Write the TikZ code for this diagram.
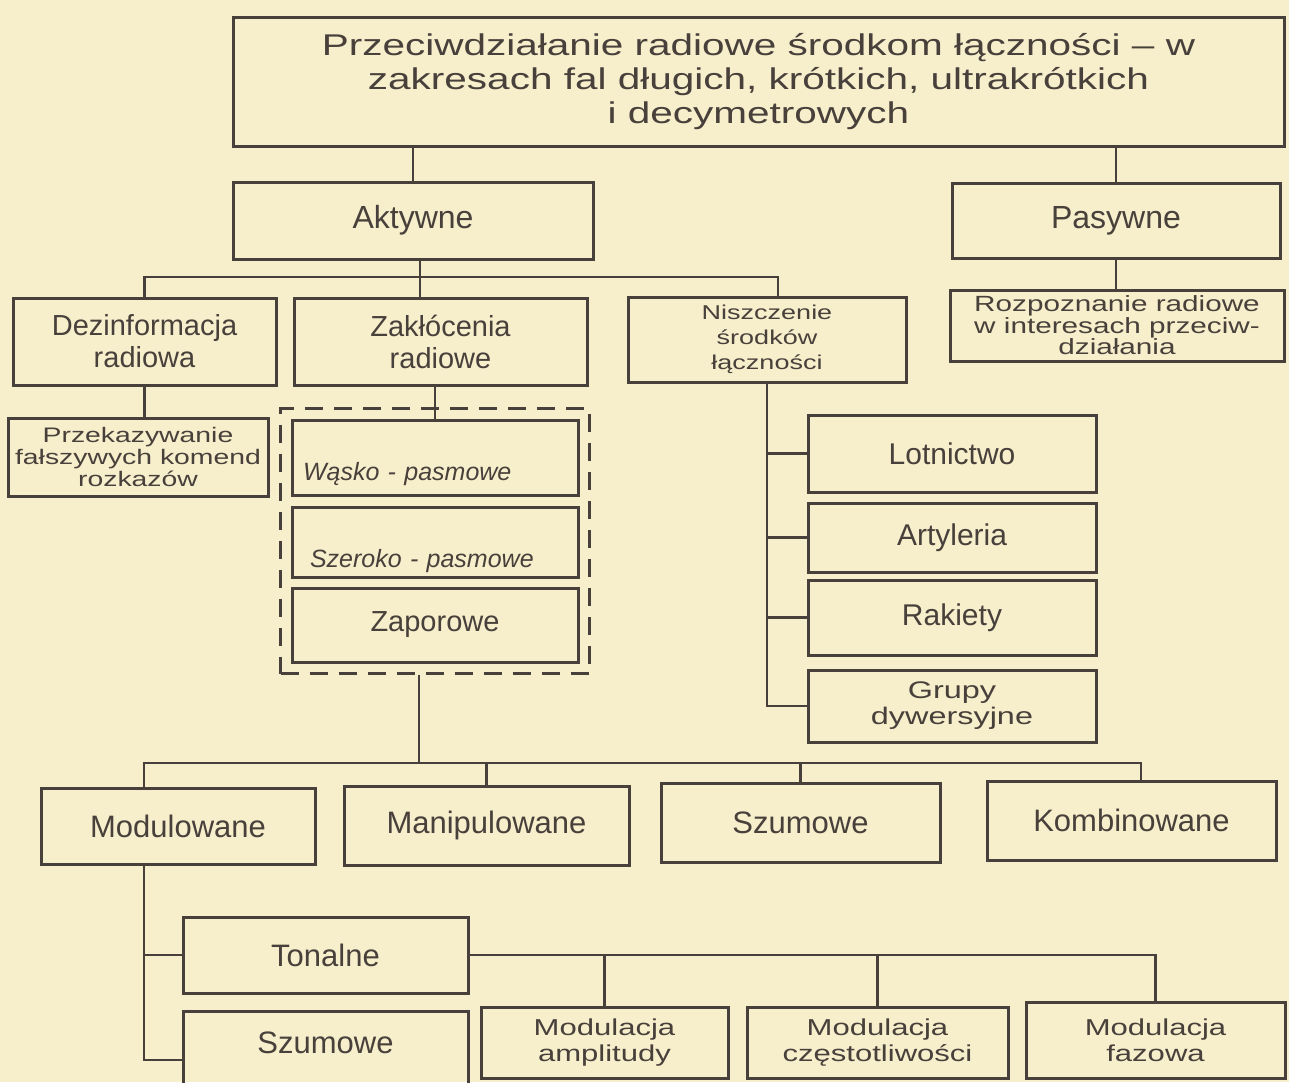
\documentclass[tikz,border=0pt]{standalone}
\usepackage{fontspec}
\setmainfont{Liberation Sans}
\newfontfamily\widefont{Liberation Sans}[FakeStretch=1.35]
\usetikzlibrary{fit,calc}

\definecolor{paper}{RGB}{247,238,204}
\definecolor{ink}{RGB}{72,64,58}
\newcommand{\fsz}[2]{\fontsize{#1}{#2}\selectfont}

\tikzset{
  blk/.style={draw=ink, line width=3pt, text=ink, inner sep=4pt, align=center},
  link/.style={draw=ink, line width=2.4pt},
  grpbox/.style={draw=ink, line width=2.4pt, dash pattern=on 18pt off 11pt},
}

\begin{document}
\begin{tikzpicture}[x=1pt,y=-1pt]
  \useasboundingbox (0,0) rectangle (1289,1082);
  \fill[paper] (0,0) rectangle (1289,1082);
  \clip (0,0) rectangle (1289,1082);

  % title and first level
  \node[blk, minimum width=1051pt, minimum height=129pt, font=\widefont\fsz{30}{34}] (top) at (758.5,81.5)
    {Przeciwdziałanie radiowe środkom łączności – w\\zakresach fal długich, krótkich, ultrakrótkich\\i decymetrowych};
  \node[blk, minimum width=360pt, minimum height=77pt, font=\fsz{32}{34}] (akt) at (413,220.5) {Aktywne};
  \node[blk, minimum width=328pt, minimum height=75pt, font=\fsz{32}{34}] (pas) at (1116,220.5) {Pasywne};

  % second level
  \node[blk, minimum width=263pt, minimum height=87pt, font=\fsz{29}{32}] (dez) at (144.5,341.5) {Dezinformacja\\radiowa};
  \node[blk, minimum width=293pt, minimum height=87pt, font=\fsz{29}{32}] (zak) at (440.5,341.5) {Zakłócenia\\radiowe};
  \node[blk, minimum width=278pt, minimum height=85pt, font=\widefont\fsz{20}{25}] (nis) at (767,339.5) {Niszczenie\\środków\\łączności};
  \node[blk, minimum width=334pt, minimum height=71pt, font=\widefont\fsz{22}{19}] (roz) at (1117,325.5) {Rozpoznanie radiowe\\w interesach przeciw-\\działania};

  \node[blk, minimum width=260pt, minimum height=78pt, font=\widefont\fsz{21}{22}] (prz) at (138,457) {Przekazywanie\\fałszywych komend\\rozkazów};

  % kinds of jamming
  \node[blk, font=\itshape\fsz{25}{28}, align=left, text width=264pt, inner xsep=11pt,
        text height=45pt, text depth=0pt, minimum height=75pt] (wask) at (435,457.5) {Wąsko - pasmowe};
  \node[blk, font=\itshape\fsz{25}{28}, align=left, text width=250pt, inner xsep=18pt,
        text height=50pt, text depth=0pt, minimum height=70pt] (szer) at (435,542) {Szeroko - pasmowe};
  \node[blk, minimum width=286pt, minimum height=74pt, font=\fsz{29}{32}] (zap) at (435,625) {Zaporowe};
  \node[grpbox, fit=(wask)(szer)(zap), inner sep=10pt] (grp) {};

  % means of destruction
  \node[blk, minimum width=288pt, minimum height=77pt, font=\fsz{30}{32}] (lot) at (952,453.5) {Lotnictwo};
  \node[blk, minimum width=288pt, minimum height=69pt, font=\fsz{30}{32}] (art) at (952,537.5) {Artyleria};
  \node[blk, minimum width=288pt, minimum height=75pt, font=\fsz{30}{32}] (rak) at (952,617.5) {Rakiety};
  \node[blk, minimum width=288pt, minimum height=72pt, font=\widefont\fsz{24}{26}] (gru) at (952,706) {Grupy\\dywersyjne};

  % signal types
  \node[blk, minimum width=274pt, minimum height=76pt, font=\fsz{31}{33}] (mdl) at (178,826) {Modulowane};
  \node[blk, minimum width=285pt, minimum height=79pt, font=\fsz{31}{33}] (man) at (486.5,825.5) {Manipulowane};
  \node[blk, minimum width=279pt, minimum height=79pt, font=\fsz{31}{33}] (szu) at (800.5,822.5) {Szumowe};
  \node[blk, minimum width=289pt, minimum height=79pt, font=\fsz{31}{33}] (kom) at (1131.5,820.5) {Kombinowane};

  \node[blk, minimum width=285pt, minimum height=76pt, font=\fsz{31}{33}] (ton) at (325.5,955) {Tonalne};
  \node[blk, minimum width=285pt, minimum height=98pt, font=\fsz{31}{33},
        text height=22pt, text depth=36pt] (szm) at (325.5,1060) {Szumowe};
  \node[blk, minimum width=247pt, minimum height=71pt, font=\widefont\fsz{23}{26}] (ama) at (604.5,1042.5) {Modulacja\\amplitudy};
  \node[blk, minimum width=261pt, minimum height=71pt, font=\widefont\fsz{23}{26}] (mcz) at (877.5,1042.5) {Modulacja\\częstotliwości};
  \node[blk, minimum width=259pt, minimum height=76pt, font=\widefont\fsz{23}{26}] (mfa) at (1155.5,1040) {Modulacja\\fazowa};

  % connectors
  \coordinate (b1) at (420,277);
  \coordinate (b1r) at (778,277);
  \coordinate (b2) at (419,763);
  \coordinate (b2l) at (144,763);
  \coordinate (b2r) at (1141,763);

  \draw[link] (top.south -| akt.north) -- (akt.north);
  \draw[link] (top.south -| pas.north) -- (pas.north);
  \draw[link] (pas.south) -- (pas.south |- roz.north);
  \draw[link] (akt.south -| b1) -- (zak.north -| b1);
  \draw[link] (dez.north) |- (b1r) -- (b1r |- nis.north);
  \draw[link] (dez.south) -- (dez.south |- prz.north);
  \draw[link] (zak.south -| wask.north) -- (wask.north);

  \draw[link] (nis.south) |- (gru.west);
  \foreach \n in {lot,art,rak}
    \draw[link] (\n.west) -- (\n.west -| nis.south);

  \draw[link] (grp.south -| b2) -- (b2);
  \draw[link] (mdl.north -| b2l) |- (b2r) -- (b2r |- kom.north);
  \draw[link] (man.north) -- (man.north |- b2);
  \draw[link] (szu.north) -- (szu.north |- b2);

  \draw[link] (mdl.south -| b2l) |- (szm.west);
  \draw[link] (ton.west) -- (ton.west -| b2l);
  \draw[link] (ton.east) -| (mfa.north);
  \draw[link] (ama.north) -- (ama.north |- ton.east);
  \draw[link] (mcz.north) -- (mcz.north |- ton.east);
\end{tikzpicture}
\end{document}
